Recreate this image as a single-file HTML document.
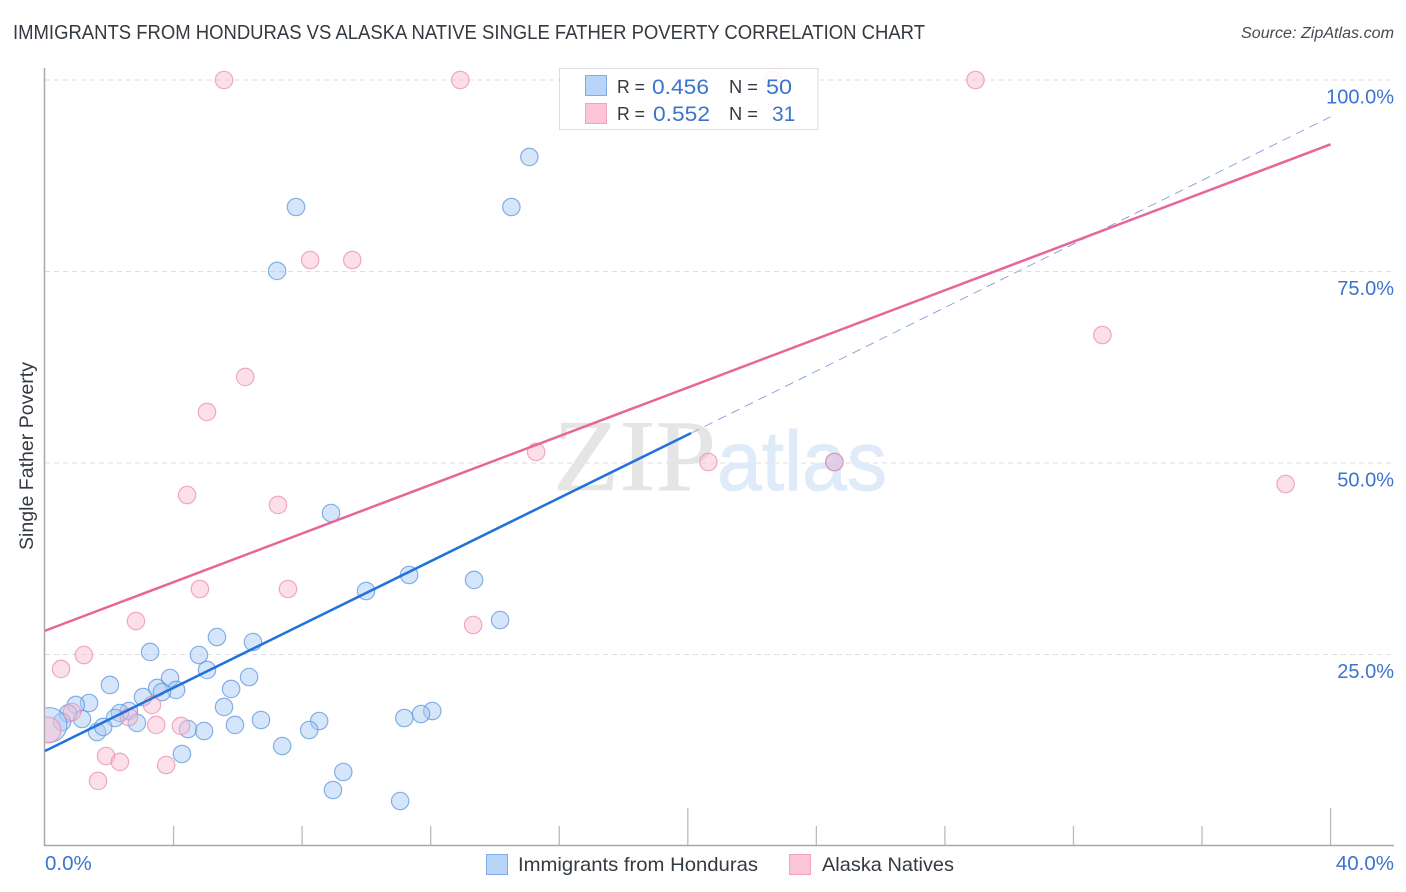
<!DOCTYPE html>
<html lang="en">
<head>
<meta charset="utf-8">
<title>Immigrants from Honduras vs Alaska Native Single Father Poverty Correlation Chart</title>
<style>
html,body{margin:0;padding:0;background:#fff;}
svg{display:block;font-family:"Liberation Sans",sans-serif;}
</style>
</head>
<body>
<svg id="chart" xmlns="http://www.w3.org/2000/svg" width="1406" height="892" viewBox="0 0 1406 892">
  <defs>
    <clipPath id="plot-clip"><rect x="45.5" y="60" width="1350" height="785"></rect></clipPath>
  </defs>
  <rect x="0" y="0" width="1406" height="892" fill="#ffffff"></rect>
  <text x="13" y="39" font-size="20" fill="#333a42" textLength="912" lengthAdjust="spacingAndGlyphs">IMMIGRANTS FROM HONDURAS VS ALASKA NATIVE SINGLE FATHER POVERTY CORRELATION CHART</text>
  <text x="1241" y="38" font-size="15.5" font-style="italic" fill="#444b52" textLength="153" lengthAdjust="spacingAndGlyphs">Source: ZipAtlas.com</text>
  <g id="grid"></g>
  <g>
    <text x="553" y="490" font-family="'Liberation Serif',serif" font-size="102" fill="#e5e5e5" stroke="#e5e5e5" stroke-width="0.6" textLength="163" lengthAdjust="spacingAndGlyphs">ZIP</text>
    <text x="717" y="490" font-size="84" fill="#e0ebfa" stroke="#e0ebfa" stroke-width="1" textLength="170" lengthAdjust="spacingAndGlyphs">atlas</text>
  </g>
  <g id="axes"></g>
  <g id="points" clip-path="url(#plot-clip)"></g>
  <g id="trends"></g>
  <g id="labels"></g>
  <text transform="translate(33,550) rotate(-90)" font-size="19" fill="#333a42" textLength="188" lengthAdjust="spacingAndGlyphs">Single Father Poverty</text>
  <g>
    <rect x="559.5" y="68.5" width="258.5" height="61" fill="#ffffff" fill-opacity="0.88" stroke="#dddddd"></rect>
    <rect x="585.5" y="75.5" width="21" height="20" fill="#b9d4f9" stroke="#7fabe6"></rect>
    <rect x="585.5" y="103.5" width="21" height="20" fill="#fcc5d7" stroke="#eea3bb"></rect>
    <text x="617" y="93" font-size="18.5" fill="#333a42" textLength="28" lengthAdjust="spacingAndGlyphs">R =</text>
    <text x="652" y="94" font-size="21" fill="#3b74cf" textLength="57" lengthAdjust="spacingAndGlyphs">0.456</text>
    <text x="729" y="93" font-size="18.5" fill="#333a42" textLength="29" lengthAdjust="spacingAndGlyphs">N =</text>
    <text x="766" y="94" font-size="21" fill="#3b74cf" textLength="26" lengthAdjust="spacingAndGlyphs">50</text>
    <text x="617" y="120" font-size="18.5" fill="#333a42" textLength="28" lengthAdjust="spacingAndGlyphs">R =</text>
    <text x="653" y="121" font-size="21" fill="#3b74cf" textLength="57" lengthAdjust="spacingAndGlyphs">0.552</text>
    <text x="729" y="120" font-size="18.5" fill="#333a42" textLength="29" lengthAdjust="spacingAndGlyphs">N =</text>
    <text x="772" y="121" font-size="21" fill="#3b74cf">31</text>
  </g>
  <g>
    <rect x="486.5" y="854.5" width="21" height="20" fill="#b9d4f9" stroke="#7fabe6"></rect>
    <text x="518" y="871" font-size="19.5" fill="#333a42" textLength="240" lengthAdjust="spacingAndGlyphs">Immigrants from Honduras</text>
    <rect x="789.5" y="854.5" width="21" height="20" fill="#fcc5d7" stroke="#eea3bb"></rect>
    <text x="822" y="871" font-size="19.5" fill="#333a42" textLength="132" lengthAdjust="spacingAndGlyphs">Alaska Natives</text>
  </g>
</svg>
<script>
const hondurasX = [15.07,7.81,14.51,7.22,8.90,11.33,9.99,13.35,14.16,5.35,6.47,3.27,4.79,5.04,3.89,6.35,2.02,3.49,4.08,5.79,3.05,3.64,1.37,0.96,5.57,2.61,2.33,2.18,2.86,12.05,11.70,11.18,6.72,8.53,5.91,8.22,1.15,0.72,0.53,24.56,0.14,1.62,1.81,4.45,4.95,7.38,4.26,9.28,8.96,11.05];
const hondurasY = [89.95,83.42,83.42,75.07,43.47,35.38,33.29,34.73,29.50,27.28,26.63,25.33,24.93,22.98,21.93,22.06,21.02,20.63,20.37,20.50,19.45,20.10,18.67,18.41,18.15,17.62,17.36,16.71,16.06,17.62,17.23,16.71,16.45,16.32,15.80,15.14,16.58,17.30,16.19,50.13,15.80,14.88,15.54,15.27,15.01,13.05,12.01,9.66,7.31,5.87];
const hondurasWeight = [1,1,1,1,1,1,1,1,1,1,1,1,1,1,1,1,1,1,1,1,1,1,1,1,1,1,1,1,1,1,1,1,1,1,1,1,1,1,1,1,4,1,1,1,1,1,1,1,1,1];
const alaskaX = [5.57,12.92,22.66,28.95,8.25,9.56,6.23,5.04,4.42,7.25,32.90,15.28,20.64,24.56,38.60,4.82,7.56,2.83,13.32,1.21,0.50,3.33,0.84,2.61,3.46,4.23,1.90,2.33,3.77,1.65,0.09];
const alaskaY = [100,100,100,100,76.50,76.50,61.23,56.66,45.82,44.52,66.71,51.44,50.13,50.13,47.26,33.55,33.55,29.37,28.85,24.93,23.11,18.41,17.49,16.84,15.80,15.67,11.75,10.97,10.57,8.49,15.14];
const alaskaWeight = [1,1,1,1,1,1,1,1,1,1,1,1,1,1,1,1,1,1,1,1,1,1,1,1,1,1,1,1,1,1,2.2];
const hondurasTrendX = [0,20.1];
const hondurasTrendY = [12.4,53.9];
const hondurasProjectionX = [20.1,40];
const hondurasProjectionY = [53.9,95.2];
const alaskaTrendX = [0,40];
const alaskaTrendY = [28.1,91.6];
const yTicks = [25,50,75,100];
const yTickLabels = ["25.0%","50.0%","75.0%","100.0%"];
const xTicks = [4,8,12,16,20,24,28,32,36,40];
const xMajorTicks = [20,40];
const xEndTicks = [0,40];
const xEndLabels = ["0.0%","40.0%"];

const NS = 'http://www.w3.org/2000/svg';
const xAxis = v => 45 + v * 32.14;
const yAxis = v => 846 - v * 7.66;
const make = (tag, parent, attrs) => {
  const el = document.createElementNS(NS, tag);
  Object.keys(attrs).forEach(k => el.setAttribute(k, attrs[k]));
  parent.appendChild(el);
  return el;
};
const gridG = document.getElementById('grid');
const axesG = document.getElementById('axes');
const pointsG = document.getElementById('points');
const trendsG = document.getElementById('trends');
const labelsG = document.getElementById('labels');

yTicks.forEach((t, i) => {
  const line = make('line', gridG, {x1: 45, x2: 1394, y1: yAxis(t), y2: yAxis(t), stroke: '#dedede', 'stroke-width': 1, 'stroke-dasharray': '5 4'});
  
  
  const label = make('text', labelsG, {x: 1394, y: yAxis(t) + 23.5, 'font-size': 20, fill: '#3b74cf', 'text-anchor': 'end'});
  label.textContent = yTickLabels[i];
  
  
});

const yAxisLine = make('line', axesG, {x1: 44.5, x2: 44.5, y1: 68, y2: 846, stroke: '#a8a8a8', 'stroke-width': 1.5});


const xAxisLine = make('line', axesG, {x1: 44, x2: 1394, y1: 845.5, y2: 845.5, stroke: '#a8a8a8', 'stroke-width': 1.5});


xTicks.forEach(t => {
  const top = xMajorTicks.includes(t) ? 808 : 826;
  const tick = make('line', axesG, {x1: xAxis(t), x2: xAxis(t), y1: top, y2: 845, stroke: '#bbbbbb', 'stroke-width': 1.3});
  
  
});
xEndTicks.forEach((t, i) => {
  const anchor = i === 0 ? 'start' : 'end';
  const px = i === 0 ? xAxis(t) : 1394;
  const label = make('text', labelsG, {x: px, y: 870, 'font-size': 20.5, fill: '#3b74cf', 'text-anchor': anchor});
  label.textContent = xEndLabels[i];
  
  
});

hondurasX.forEach((v, i) => {
  const dot = make('circle', pointsG, {cx: xAxis(v), cy: yAxis(hondurasY[i]), r: 8.7 * Math.sqrt(hondurasWeight[i]), fill: '#a9cbf5', 'fill-opacity': 0.48, stroke: '#5f97de', 'stroke-opacity': 0.75, 'stroke-width': 1.2});
  
  
});
alaskaX.forEach((v, i) => {
  const dot = make('circle', pointsG, {cx: xAxis(v), cy: yAxis(alaskaY[i]), r: 8.7 * Math.sqrt(alaskaWeight[i]), fill: '#fbbdd1', 'fill-opacity': 0.48, stroke: '#e98fae', 'stroke-opacity': 0.75, 'stroke-width': 1.2});
  
  
});

const projection = make('line', trendsG, {x1: xAxis(hondurasProjectionX[0]), y1: yAxis(hondurasProjectionY[0]), x2: xAxis(hondurasProjectionX[1]), y2: yAxis(hondurasProjectionY[1]), stroke: '#7f9fdc', 'stroke-width': 0.9, 'stroke-dasharray': '9 6'});


const alaskaLine = make('line', trendsG, {x1: xAxis(alaskaTrendX[0]), y1: yAxis(alaskaTrendY[0]), x2: xAxis(alaskaTrendX[1]), y2: yAxis(alaskaTrendY[1]), stroke: '#e8659a', 'stroke-width': 2.5});


const hondurasLine = make('line', trendsG, {x1: xAxis(hondurasTrendX[0]), y1: yAxis(hondurasTrendY[0]), x2: xAxis(hondurasTrendX[1]), y2: yAxis(hondurasTrendY[1]), stroke: '#2272d9', 'stroke-width': 2.5});


</script>
</body>
</html>
